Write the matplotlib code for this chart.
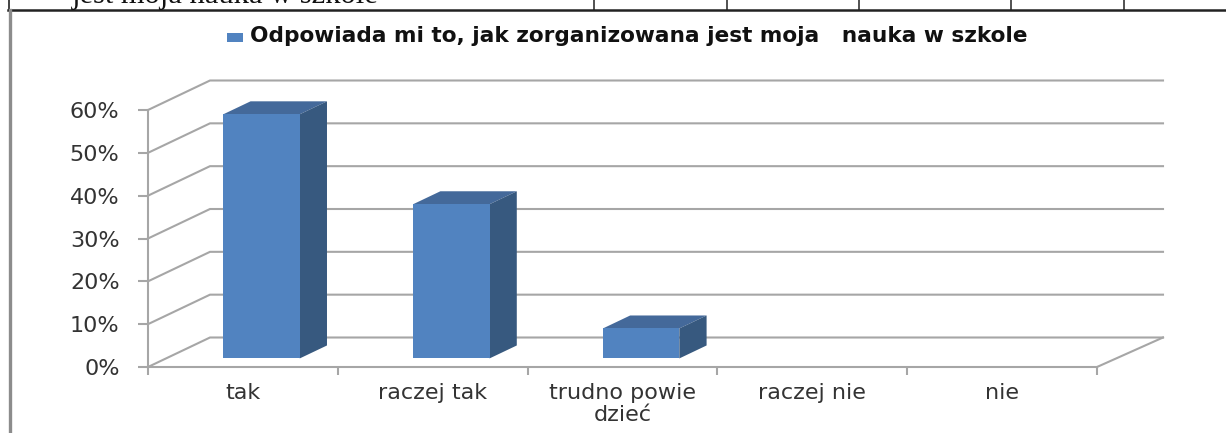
import matplotlib
matplotlib.use('Agg')
import matplotlib.pyplot as plt
from matplotlib.patches import Polygon, Rectangle
from matplotlib.lines import Line2D

W, H = 1226, 433

categories = ['tak', 'raczej tak', 'trudno powie\ndzieć', 'raczej nie', 'nie']
values = [57, 36, 7, 0, 0]
y_ticks = [0, 10, 20, 30, 40, 50, 60]
y_labels = ['0%', '10%', '20%', '30%', '40%', '50%', '60%']
legend_text = 'Odpowiada mi to, jak zorganizowana jest moja   nauka w szkole'
table_text = 'jest moja nauka w szkole'
table_cols = [594, 727, 859, 1011, 1124]

GRID = '#a6a6a6'
FRONT = '#5183c0'
TOP = '#44699a'
SIDE = '#37597f'
TEXT = '#333333'

# size of the fake 3d depth, in data units
DX = 62 / (949 / 5)
DX_RIGHT = 66 / (949 / 5)
DY = 29.5 / (257 / 60)
BAR_W = 76.5 / 190


def figx(px):
    return px / W


def figy(px):
    return 1 - px / H


fig = plt.figure(figsize=(W / 100, H / 100), dpi=100, facecolor='white')

# bits of the page around the chart
fig.add_artist(Line2D([figx(8), 1], [figy(9.5), figy(9.5)], color='#222222', lw=1.8))
fig.add_artist(Line2D([figx(8.5), figx(8.5)], [figy(9.5), 1], color='#222222', lw=1.2))
fig.add_artist(Line2D([figx(10), figx(10)], [figy(10), 0], color='#8c8c8c', lw=2.4))
for c in table_cols:
    fig.add_artist(Line2D([figx(c), figx(c)], [figy(9.5), 1], color='#222222', lw=1.1))
fig.text(figx(72), figy(3), table_text, family='Liberation Serif', fontsize=22,
         va='baseline', ha='left', color='#111111')

ax = fig.add_axes([figx(148), figy(367), 949 / W, 257 / H])
ax.set_xlim(0, 5)
ax.set_ylim(0, 60)
ax.patch.set_visible(False)

for s in ['top', 'right']:
    ax.spines[s].set_visible(False)
for s in ['left', 'bottom']:
    ax.spines[s].set_color(GRID)
    ax.spines[s].set_linewidth(1.5)

# walls of the box
for v in y_ticks:
    ax.plot([0, DX, 5 + DX_RIGHT], [v, v + DY, v + DY], color=GRID, lw=1.5,
            clip_on=False, zorder=1, solid_joinstyle='miter')
ax.plot([5, 5 + DX_RIGHT], [0, DY], color=GRID, lw=1.5, clip_on=False, zorder=1)

# bars
for i, v in enumerate(values):
    if v == 0:
        continue
    x0 = i + 0.5 - BAR_W / 2 + DX * 0.3
    x1 = x0 + BAR_W
    y0 = DY * 0.29
    y1 = y0 + v
    dx = DX * 0.44
    dy = DY * 0.44
    ax.add_patch(Polygon([(x0, y1), (x1, y1), (x1 + dx, y1 + dy), (x0 + dx, y1 + dy)],
                         fc=TOP, ec='none', clip_on=False, zorder=3))
    ax.add_patch(Polygon([(x1, y0), (x1 + dx, y0 + dy), (x1 + dx, y1 + dy), (x1, y1)],
                         fc=SIDE, ec='none', clip_on=False, zorder=3))
    ax.add_patch(Rectangle((x0, y0), BAR_W, v, fc=FRONT, ec='none', clip_on=False, zorder=4))

ax.set_yticks(y_ticks)
ax.set_yticklabels(y_labels, fontsize=16, color=TEXT)
ax.tick_params(axis='y', length=7, width=1.5, color=GRID, pad=13.5)

ax.set_xticks(range(6))
ax.set_xticklabels([])
ax.tick_params(axis='x', which='major', length=6, width=1.5, color=GRID)
ax.set_xticks([i + 0.5 for i in range(5)], minor=True)
ax.set_xticklabels(categories, minor=True, fontsize=16, color=TEXT, linespacing=1.12)
ax.tick_params(axis='x', which='minor', length=0, pad=11.5)

# legend
fig.add_artist(Rectangle((figx(227), figy(42)), 16 / W, 9 / H, fc=FRONT, ec='none',
                         transform=fig.transFigure))
fig.text(figx(250), figy(36), legend_text, fontsize=15.6, fontweight='bold',
         color='#111111', va='center', ha='left')

fig.savefig('out.png', dpi=100)
